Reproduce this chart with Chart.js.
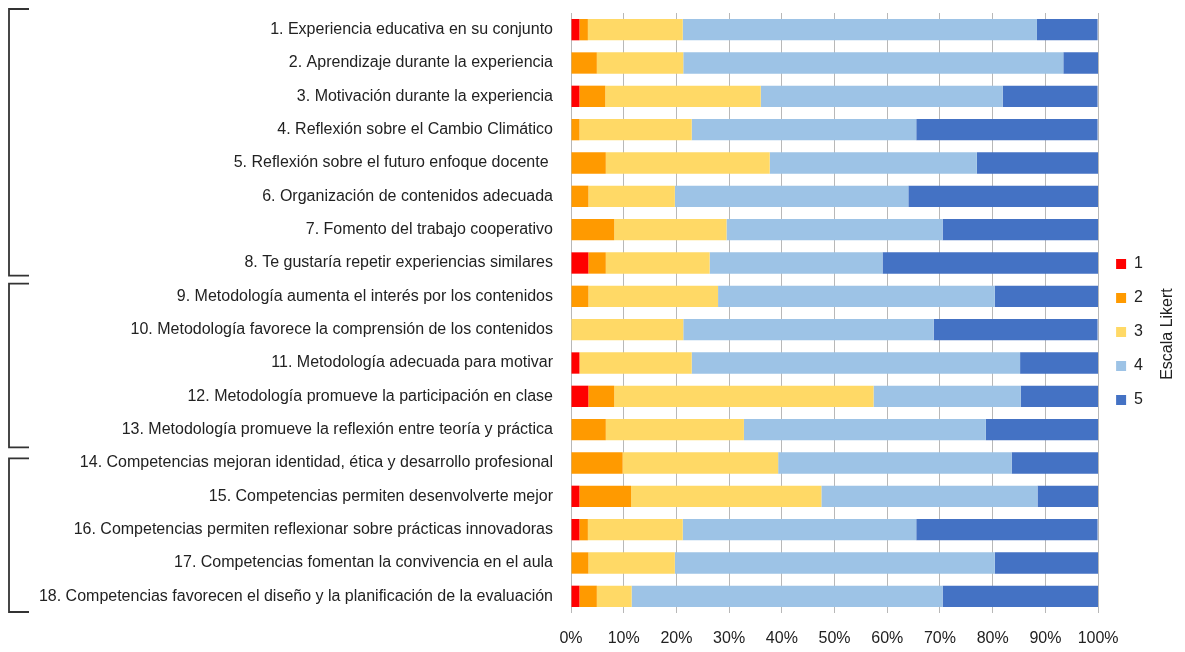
<!DOCTYPE html>
<html>
<head>
  <meta charset="utf-8">
  <title>Escala Likert</title>
  <script src="https://cdn.jsdelivr.net/npm/chart.js"></script>
  <style>
    html, body { margin: 0; padding: 0; background: #fff; }
    canvas { display: block; }
  </style>
</head>
<body>
  <canvas id="chart" width="1185" height="652"></canvas>
  <script>
    const items = [
      '1. Experiencia educativa en su conjunto',
      '2. Aprendizaje durante la experiencia',
      '3. Motivación durante la experiencia',
      '4. Reflexión sobre el Cambio Climático',
      '5. Reflexión sobre el futuro enfoque docente ',
      '6. Organización de contenidos adecuada',
      '7. Fomento del trabajo cooperativo',
      '8. Te gustaría repetir experiencias similares',
      '9. Metodología aumenta el interés por los contenidos',
      '10. Metodología favorece la comprensión de los contenidos',
      '11. Metodología adecuada para motivar',
      '12. Metodología promueve la participación en clase',
      '13. Metodología promueve la reflexión entre teoría y práctica',
      '14. Competencias mejoran identidad, ética y desarrollo profesional',
      '15. Competencias permiten desenvolverte mejor',
      '16. Competencias permiten reflexionar sobre prácticas innovadoras',
      '17. Competencias fomentan la convivencia en el aula',
      '18. Competencias favorecen el diseño y la planificación de la evaluación'
    ];

    // % de respuestas por nivel de la escala
    const likert1 = [1.6, 0, 1.6, 0, 0, 0, 0, 3.3, 0, 0, 1.6, 3.3, 0, 0, 1.6, 1.6, 0, 1.6];
    const likert2 = [1.6, 4.9, 4.9, 1.6, 6.6, 3.3, 8.2, 3.3, 3.3, 0, 0, 4.9, 6.6, 9.8, 9.8, 1.6, 3.3, 3.3];
    const likert3 = [18.0, 16.4, 29.5, 21.3, 31.1, 16.4, 21.3, 19.7, 24.6, 21.3, 21.3, 49.2, 26.2, 29.5, 36.1, 18.0, 16.4, 6.6];
    const likert4 = [67.2, 72.1, 45.9, 42.6, 39.3, 44.3, 41.0, 32.8, 52.5, 47.5, 62.3, 27.9, 45.9, 44.3, 41.0, 44.3, 60.7, 59.0];
    const likert5 = [11.5, 6.6, 18.0, 34.4, 23.0, 36.1, 29.5, 41.0, 19.7, 31.1, 14.8, 14.8, 21.3, 16.4, 11.5, 34.4, 19.7, 29.5];

    const levels = ['1', '2', '3', '4', '5'];
    const colors = ['#FF0000', '#FF9A00', '#FFD966', '#9DC3E6', '#4472C4'];
    const groups = [[0, 7], [8, 12], [13, 17]];

    const FONT = "'Liberation Sans', Arial, sans-serif";
    const TEXT = '#222';

    // ajuste fino de cada corchete (arriba, abajo) en px
    const bracketNudge = [[-4, -4], [4, 1], [12, -1]];

    const brackets = {
      id: 'brackets',
      afterDraw(chart) {
        const { ctx } = chart;
        const y = chart.scales.y;
        const band = y.getPixelForValue(1) - y.getPixelForValue(0);
        ctx.save();
        ctx.strokeStyle = '#333';
        ctx.lineWidth = 1.8;
        groups.forEach(([a, b], i) => {
          const top = y.getPixelForValue(a) - band / 2 + bracketNudge[i][0];
          const bot = y.getPixelForValue(b) + band / 2 + bracketNudge[i][1];
          ctx.beginPath();
          ctx.moveTo(29, top);
          ctx.lineTo(9, top);
          ctx.lineTo(9, bot);
          ctx.lineTo(29, bot);
          ctx.stroke();
        });
        // titulo de la leyenda, vertical
        const lg = chart.legend;
        ctx.fillStyle = TEXT;
        ctx.font = '16px ' + FONT;
        ctx.textAlign = 'center';
        ctx.textBaseline = 'middle';
        ctx.translate(lg.right + 15, (lg.top + lg.bottom) / 2 + 2);
        ctx.rotate(-Math.PI / 2);
        ctx.fillText('Escala Likert', 0, 0);
        ctx.restore();
      }
    };

    const series = [likert1, likert2, likert3, likert4, likert5];

    new Chart(document.getElementById('chart'), {
      type: 'bar',
      data: {
        labels: items,
        datasets: series.map((d, i) => ({
          label: levels[i],
          data: d,
          backgroundColor: colors[i],
          borderWidth: 0,
          barPercentage: 0.64,
          categoryPercentage: 1
        }))
      },
      options: {
        indexAxis: 'y',
        responsive: false,
        animation: false,
        layout: { padding: { top: 13, bottom: 1, left: 0, right: 32 } },
        scales: {
          x: {
            stacked: true,
            min: 0,
            max: 100,
            ticks: {
              stepSize: 10,
              callback: v => v + '%',
              font: { family: FONT, size: 16 },
              color: TEXT,
              padding: 16
            },
            grid: { color: '#B8B8B8', lineWidth: 1, drawTicks: false },
            border: { display: false },
            afterFit(s) { s.height = 38; }
          },
          y: {
            stacked: true,
            ticks: {
              font: { family: FONT, size: 16 },
              color: TEXT,
              padding: 18,
              autoSkip: false
            },
            grid: { display: false, drawTicks: false },
            border: { display: false },
            afterFit(s) {
              s.width = 571;
              s.paddingTop = 0;
              s.paddingBottom = 0;
            }
          }
        },
        plugins: {
          legend: {
            position: 'right',
            labels: {
              boxWidth: 10,
              boxHeight: 10,
              padding: 18,
              font: { family: FONT, size: 16 },
              color: TEXT
            }
          },
          tooltip: { enabled: false }
        }
      },
      plugins: [brackets]
    });
  </script>
</body>
</html>
